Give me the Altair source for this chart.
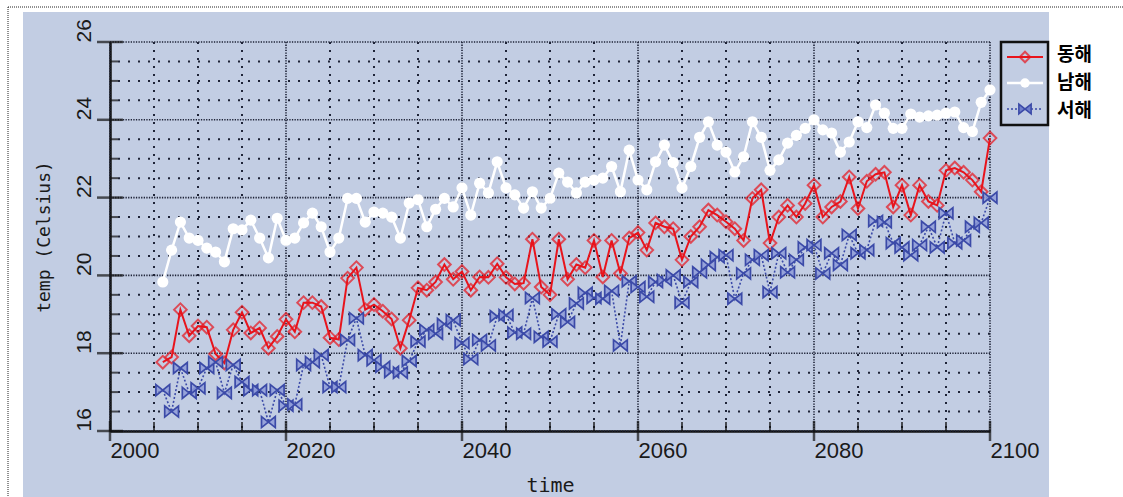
import altair as alt
import pandas as pd

# ---------------- data ----------------
years = list(range(2006, 2101))

east = [  # 동해
    17.77, 17.9, 19.12, 18.45, 18.7, 18.67, 17.98, 17.75, 18.6, 19.05,
    18.52, 18.65, 18.13, 18.43, 18.87, 18.55, 19.3, 19.3, 19.2, 18.4,
    18.35, 19.93, 20.2, 19.12, 19.25, 19.08, 18.88, 18.13, 18.85, 19.68,
    19.62, 19.83, 20.28, 19.9, 20.1, 19.62, 19.96, 19.95, 20.3, 19.95,
    19.78, 19.8, 20.93, 19.7, 19.5, 20.93, 19.9, 20.28, 20.2, 20.9,
    19.96, 20.9, 20.05, 20.96, 21.1, 20.65, 21.35, 21.25, 21.2, 20.4,
    21.0, 21.25, 21.68, 21.55, 21.38, 21.2, 20.9, 21.98, 22.2, 20.83,
    21.5, 21.8, 21.5, 21.85, 22.32, 21.5, 21.76, 21.9, 22.53, 21.72,
    22.42, 22.6, 22.65, 21.76, 22.32, 21.55, 22.32, 21.9, 21.8, 22.7,
    22.76, 22.65, 22.45, 22.15, 23.53,
]
south = [  # 남해
    19.83, 20.65, 21.37, 20.96, 20.9, 20.7, 20.6, 20.35, 21.2, 21.17,
    21.42, 20.96, 20.45, 21.47, 20.9, 20.96, 21.35, 21.6, 21.25, 20.6,
    20.96, 21.98, 21.98, 21.37, 21.63, 21.6, 21.5, 20.96, 21.86, 21.95,
    21.25, 21.7, 21.98, 21.76, 22.25, 21.55, 22.37, 22.12, 22.92, 22.25,
    22.07, 21.73, 22.15, 21.73, 21.98, 22.63, 22.4, 22.12, 22.4, 22.45,
    22.5, 22.8, 22.15, 23.22, 22.45, 22.2, 22.92, 23.35, 22.9, 22.25,
    22.8, 23.55, 23.95, 23.35, 23.17, 22.66, 23.05, 23.95, 23.55, 22.7,
    22.97, 23.4, 23.6, 23.78, 24.0, 23.74, 23.66, 23.17, 23.43, 23.95,
    23.8, 24.38, 24.17, 23.78, 23.78, 24.15, 24.07, 24.1, 24.12, 24.17,
    24.2, 23.8, 23.7, 24.45, 24.77,
]
west = [  # 서해
    17.05, 16.5, 17.62, 16.98, 17.1, 17.62, 17.77, 16.98, 17.7, 17.26,
    17.05, 17.05, 16.23, 17.05, 16.65, 16.68, 17.7, 17.77, 17.95, 17.13,
    17.13, 18.34, 18.9, 17.95, 17.82, 17.65, 17.52, 17.5, 17.8, 18.3,
    18.6, 18.5, 18.75, 18.85, 18.26, 17.85, 18.34, 18.2, 18.95, 18.98,
    18.53, 18.5, 19.42, 18.42, 18.3, 19.0, 18.8, 19.28, 19.55, 19.42,
    19.4, 19.6, 18.2, 19.85, 19.7, 19.45, 19.83, 19.88, 20.0, 19.3,
    19.83, 20.08, 20.27, 20.47, 20.52, 19.4, 20.05, 20.4, 20.52, 19.57,
    20.57, 20.08, 20.4, 20.72, 20.78, 20.05, 20.57, 20.27, 21.04, 20.57,
    20.65, 21.4, 21.37, 20.83, 20.72, 20.52, 20.78, 21.25, 20.72, 21.6,
    20.83, 20.9, 21.25, 21.35, 22.0,
]
series_names = ["동해", "남해", "서해"]

x_major = [2000, 2020, 2040, 2060, 2080, 2100]
x_minor = [2005, 2010, 2015, 2025, 2030, 2035, 2045, 2050, 2055,
           2065, 2070, 2075, 2085, 2090, 2095]
y_major = [16, 18, 20, 22, 24, 26]
y_minor = [16.5, 17, 17.5, 18.5, 19, 19.5, 20.5, 21, 21.5,
           22.5, 23, 23.5, 24.5, 25, 25.5]

# ---------------- styling ----------------
W, H = 880, 389
PL, PT, PR, PB = 110, 42, 133, 66
PANEL = "#c2cde3"
GRID = "#1f2438"
RED = "#e8141c"
BLUE = "#3b4aa8"
BOWTIE = "M-1,-0.8L1,0.8L1,-0.8L-1,0.8Z"

df = pd.DataFrame({"year": years, "east": east, "south": south, "west": west})
one = pd.DataFrame({"k": [0]})

xs = alt.Scale(domain=[2000, 2100], nice=False, zero=False)
ys = alt.Scale(domain=[16, 26], nice=False, zero=False)

xaxis = alt.Axis(values=x_major, grid=False, ticks=False, tickSize=0, domain=True,
                 domainColor="#111111", domainWidth=2.5, labelAlign="left",
                 labelBaseline="top", labelPadding=9, labelFont="Liberation Sans",
                 labelFontSize=22, labelColor="#1a1a1a", labelFlush=False,
                 labelOverlap=False, format="d", title="time",
                 titleFont="DejaVu Sans Mono", titleFontSize=20, titleFontWeight="normal",
                 titleColor="#1a1a1a", titleY=54, titleBaseline="middle")
yaxis = alt.Axis(values=y_major, grid=False, ticks=False, tickSize=0, domain=True,
                 domainColor="#111111", domainWidth=2.5, labelAngle=270,
                 labelAlign="left", labelBaseline="alphabetic", labelPadding=20,
                 labelFont="Liberation Sans", labelFontSize=21, labelColor="#1a1a1a",
                 labelFlush=False, labelOverlap=False, format="d",
                 title="temp (Celsius)", titleFont="DejaVu Sans Mono", titleFontSize=18,
                 titleFontWeight="normal", titleColor="#1a1a1a", titleX=-66,
                 titleY=H / 2, titleAngle=270, titleAlign="center",
                 titleBaseline="middle")


def X(field):
    return alt.X(field, type="quantitative", scale=xs, axis=xaxis)


def Y(field):
    return alt.Y(field, type="quantitative", scale=ys, axis=yaxis)


layers = []

# grid lines
xmin_df = pd.DataFrame({"v": x_minor})
ymin_df = pd.DataFrame({"v": y_minor})
xmaj_df = pd.DataFrame({"v": x_major})
ymaj_df = pd.DataFrame({"v": y_major})

layers.append(alt.Chart(xmin_df).mark_rule(color=GRID, strokeWidth=2, strokeDash=[2, 6])
              .encode(x=X("v")))
layers.append(alt.Chart(ymin_df).mark_rule(color=GRID, strokeWidth=2, strokeDash=[2, 8])
              .encode(y=Y("v")))
layers.append(alt.Chart(xmaj_df).mark_rule(color=GRID, strokeWidth=1.6, strokeDash=[1.3, 1.3])
              .encode(x=X("v")))
layers.append(alt.Chart(ymaj_df).mark_rule(color=GRID, strokeWidth=1.6, strokeDash=[1.3, 1.3])
              .encode(y=Y("v")))

# ticks
layers.append(alt.Chart(xmaj_df).mark_tick(orient="vertical", size=20, thickness=2.5,
                                           color="#111111")
              .encode(x=X("v"), y=alt.datum(16)))
layers.append(alt.Chart(xmin_df).mark_tick(orient="vertical", size=9, thickness=2,
                                           color="#111111", yOffset=-4.5)
              .encode(x=X("v"), y=alt.datum(16)))
layers.append(alt.Chart(ymaj_df).mark_tick(orient="horizontal", size=26, thickness=2.5,
                                           color="#111111")
              .encode(y=Y("v"), x=alt.datum(2000)))
layers.append(alt.Chart(ymin_df).mark_tick(orient="horizontal", size=8, thickness=2,
                                           color="#111111", xOffset=4)
              .encode(y=Y("v"), x=alt.datum(2000)))

# data series
base = alt.Chart(df)
layers.append(base.mark_line(color=RED, strokeWidth=2).encode(x=X("year"), y=Y("east")))
layers.append(base.mark_point(shape="diamond", size=160, filled=False, color=RED,
                              strokeWidth=2).encode(x=X("year"), y=Y("east")))
layers.append(base.mark_line(color="white", strokeWidth=2.5).encode(x=X("year"), y=Y("south")))
layers.append(base.mark_point(shape="circle", size=125, filled=True, color="white",
                              opacity=1).encode(x=X("year"), y=Y("south")))
layers.append(base.mark_line(color=BLUE, strokeWidth=1.6, strokeDash=[2, 2])
              .encode(x=X("year"), y=Y("west")))
layers.append(base.mark_point(shape=BOWTIE, size=190, fill="#8e9bd8", fillOpacity=0.85,
                              stroke=BLUE, strokeWidth=1.7, opacity=1)
              .encode(x=X("year"), y=Y("west")))

# white surroundings of the blue panel
layers.append(alt.Chart(one).mark_rect(color="white").encode(
    x=alt.value(-PL), x2=alt.value(23 - PL), y=alt.value(-PT), y2=alt.value(H + PB)))
layers.append(alt.Chart(one).mark_rect(color="white").encode(
    x=alt.value(-PL), x2=alt.value(W + PR), y=alt.value(-PT), y2=alt.value(12 - PT)))
layers.append(alt.Chart(one).mark_rect(color="white").encode(
    x=alt.value(1049 - PL), x2=alt.value(W + PR), y=alt.value(-PT), y2=alt.value(H + PB)))
# dotted outer frame
layers.append(alt.Chart(one).mark_rule(color="#222222", strokeWidth=1, strokeDash=[1, 1]).encode(
    x=alt.value(8 - PL), y=alt.value(7 - PT), y2=alt.value(H + PB)))
layers.append(alt.Chart(one).mark_rule(color="#222222", strokeWidth=1, strokeDash=[1, 1]).encode(
    y=alt.value(7 - PT), x=alt.value(8 - PL), x2=alt.value(W + PR)))

# legend
leg_y = [57 - PT, 83 - PT, 109 - PT]       # symbol rows
lab_y = [55 - PT, 83 - PT, 111 - PT]       # label rows
sx0, sx1, sxc = 1007 - PL, 1043 - PL, 1025 - PL
layers.append(alt.Chart(one).mark_rect(fillOpacity=0, stroke="#111111", strokeWidth=2.5).encode(
    x=alt.value(1001 - PL), x2=alt.value(1048 - PL), y=alt.value(0), y2=alt.value(125 - PT)))
leg_styles = [
    dict(line=dict(color=RED, strokeWidth=2),
         pt=dict(shape="diamond", size=110, filled=False, color=RED, strokeWidth=2)),
    dict(line=dict(color="white", strokeWidth=2.5),
         pt=dict(shape="circle", size=90, filled=True, color="white", opacity=1)),
    dict(line=dict(color=BLUE, strokeWidth=1.6, strokeDash=[2, 2]),
         pt=dict(shape=BOWTIE, size=150, fill="#6f7fcc", stroke=BLUE, strokeWidth=1.6,
                 opacity=1)),
]
for i, name in enumerate(series_names):
    ldf = pd.DataFrame({"name": [name]})
    layers.append(alt.Chart(ldf).mark_rule(**leg_styles[i]["line"]).encode(
        x=alt.value(sx0), x2=alt.value(sx1), y=alt.value(leg_y[i])))
    layers.append(alt.Chart(ldf).mark_point(**leg_styles[i]["pt"]).encode(
        x=alt.value(sxc), y=alt.value(leg_y[i])))
    layers.append(alt.Chart(ldf).mark_text(font="Noto Sans CJK KR", fontSize=19,
                                           fontWeight="bold", align="left",
                                           baseline="middle", color="#000000").encode(
        x=alt.value(1057 - PL), y=alt.value(lab_y[i]), text="name:N"))

chart = alt.layer(*layers).properties(
    width=W, height=H,
    padding={"left": PL, "top": PT, "right": PR, "bottom": PB},
    autosize=alt.AutoSizeParams(type="none"),
    background=PANEL,
).configure_view(strokeWidth=0)

chart.save("out.html", embed_options={"renderer": "svg", "actions": False})
